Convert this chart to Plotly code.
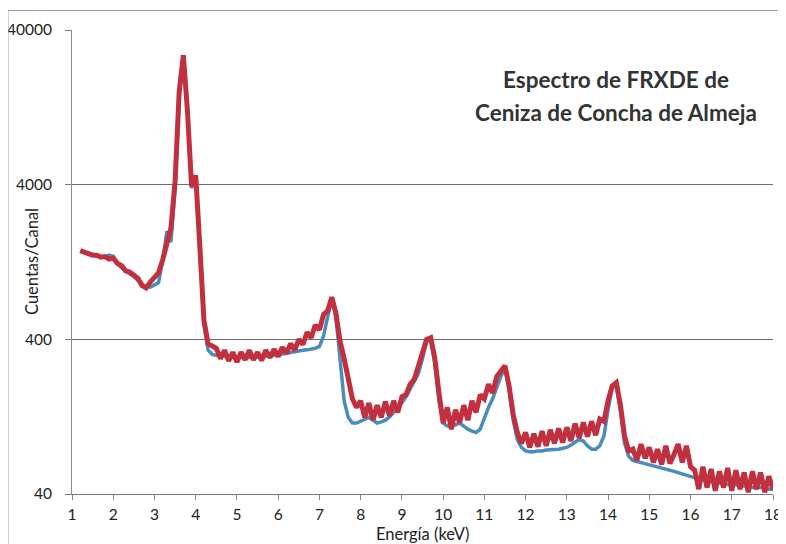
import numpy as np
import plotly.graph_objects as go

# Energy grid (keV), 0.1 keV channels from 1.2 to 18.0
energia = np.round(np.arange(1.2, 18.0001, 0.1), 2)

# Measured spectrum (red), counts per channel
medido = [
    1500, 1460, 1450, 1400, 1400, 1360, 1370, 1320,            # 1.2-1.9
    1340, 1240, 1200, 1110, 1090, 1030, 990, 890, 860, 940,    # 2.0-2.9
    1010, 1080, 1310, 1630, 2100, 4200, 16000, 27500, 12000, 3900,  # 3.0-3.9
    4600, 1600, 530, 375, 360, 350, 300, 340, 290, 330,        # 4.0-4.9
    285, 330, 295, 340, 295, 330, 292, 340, 305, 345,          # 5.0-5.9
    310, 355, 325, 375, 340, 400, 370, 445, 410, 495,          # 6.0-6.9
    460, 580, 610, 750, 590, 390, 300, 215, 165, 145,          # 7.0-7.9
    160, 125, 155, 120, 150, 125, 158, 128, 160, 135,          # 8.0-8.9
    170, 175, 205, 220, 265, 320, 400, 410, 300, 180,          # 9.0-9.9
    115, 145, 105, 140, 115, 150, 120, 160, 135, 175,          # 10.0-10.9
    165, 205, 180, 230, 250, 270, 200, 130, 100, 85,           # 11.0-11.9
    100, 80, 98, 81, 102, 82, 104, 85, 106, 86,                # 12.0-12.9
    108, 88, 114, 92, 116, 94, 118, 96, 122, 118,              # 13.0-13.9
    160, 200, 210, 150, 95, 76, 78, 66, 84, 68,                # 14.0-14.9
    80, 64, 78, 62, 82, 63, 72, 84, 64, 82,                    # 15.0-15.9
    60, 57, 43, 60, 44, 58, 42, 56, 44, 59,                    # 16.0-16.9
    42, 57, 43, 55, 41, 56, 43, 55, 41, 52,                    # 17.0-17.9
    43,                                                        # 18.0
]

# Fitted / reference spectrum (blue), counts per channel
ajuste = [
    1480, 1450, 1420, 1400, 1380, 1360, 1360, 1400,            # 1.2-1.9
    1380, 1230, 1160, 1100, 1060, 1020, 960, 900, 880, 870,    # 2.0-2.9
    900, 930, 1300, 2000, 1700, 3800, 15000, 27500, 12000, 3800,  # 3.0-3.9
    4500, 1550, 500, 340, 320, 315, 312, 310, 308, 306,        # 4.0-4.9
    305, 304, 304, 305, 306, 307, 308, 310, 312, 315,          # 5.0-5.9
    318, 322, 326, 330, 334, 338, 340, 342, 345, 350,          # 6.0-6.9
    360, 420, 560, 720, 560, 280, 160, 125, 115, 115,          # 7.0-7.9
    118, 122, 125, 120, 115, 117, 120, 126, 135, 145,          # 8.0-8.9
    155, 170, 190, 210, 240, 300, 390, 400, 280, 160,          # 9.0-9.9
    115, 110, 110, 112, 115, 110, 105, 102, 100, 105,          # 10.0-10.9
    125, 145, 165, 195, 230, 260, 190, 120, 90, 80,            # 11.0-11.9
    76, 75, 75, 76, 76, 77, 77, 78, 78, 79,                    # 12.0-12.9
    80, 83, 86, 90, 88, 82, 78, 78, 82, 95,                    # 13.0-13.9
    140, 195, 200, 140, 85, 70, 66, 65, 64, 63,                # 14.0-14.9
    62, 61, 60, 59, 58, 57, 56, 55, 54, 53,                    # 15.0-15.9
    52, 51, 50, 49, 49, 48, 48, 47, 47, 46,                    # 16.0-16.9
    46, 46, 45, 45, 45, 44, 44, 44, 44, 43,                    # 17.0-17.9
    43,                                                        # 18.0
]

y_ticks = [40, 400, 4000, 40000]
y_tick_text = ["40", "400", "4000", "40000"]
x_ticks = list(range(1, 19))

titulo_1 = "Espectro de FRXDE de"
titulo_2 = "Ceniza de Concha de Almeja"
x_titulo = "Energía (keV)"
y_titulo = "Cuentas/Canal"

FONT = "Lato, 'Open Sans', sans-serif"

fig = go.Figure()
fig.add_trace(go.Scatter(
    x=energia, y=ajuste, mode="lines", name="Ajuste",
    line=dict(color="#4a8cbd", width=3.5), showlegend=False,
))
fig.add_trace(go.Scatter(
    x=energia, y=medido, mode="lines", name="Medido",
    line=dict(color="#c2303f", width=5), showlegend=False,
))

# page body has an 8 px margin, so the figure is sized/offset to compensate
fig.update_layout(
    width=778, height=536,
    margin=dict(l=64, r=13, t=22, b=50),
    paper_bgcolor="white", plot_bgcolor="white",
    font=dict(family=FONT, size=15.5, color="#222222"),
    xaxis=dict(
        range=[1, 18], tickvals=x_ticks, ticks="outside", ticklen=5,
        tickcolor="#888888", showline=True, linecolor="#7a7a7a", linewidth=1,
        showgrid=False, zeroline=False, automargin=False,
        ticklabelstandoff=1,
    ),
    yaxis=dict(
        type="log", range=[np.log10(40), np.log10(40000)],
        tickvals=y_ticks, ticktext=y_tick_text, ticks="outside", ticklen=6,
        tickcolor="#7a7a7a", showline=True, linecolor="#8a8a8a", linewidth=1,
        showgrid=True, gridcolor="#6e6e6e", gridwidth=1, zeroline=False,
        automargin=False, ticklabelstandoff=10,
    ),
    annotations=[
        dict(x=0.776, y=(494 - 80) / 464, xref="paper", yref="paper",
             text="<b>" + titulo_1 + "</b>", showarrow=False,
             xanchor="center", yanchor="middle",
             font=dict(family=FONT, size=22.5, color="#333333")),
        dict(x=0.776, y=(494 - 112) / 464, xref="paper", yref="paper",
             text="<b>" + titulo_2 + "</b>", showarrow=False,
             xanchor="center", yanchor="middle",
             font=dict(family=FONT, size=22.5, color="#333333")),
        dict(x=0.5, y=(494 - 534) / 464, xref="paper", yref="paper",
             text=x_titulo, showarrow=False, xanchor="center", yanchor="middle",
             font=dict(family=FONT, size=16.5, color="#222222")),
        dict(x=(32 - 72) / 701, y=0.5, xref="paper", yref="paper",
             text=y_titulo, showarrow=False, textangle=-90,
             xanchor="center", yanchor="middle",
             font=dict(family=FONT, size=16.5, color="#222222")),
    ],
    shapes=[
        dict(type="line", xref="paper", yref="paper", x0=-0.0913, x1=1.03,
             y0=1.042, y1=1.042, line=dict(color="#a0a0a0", width=1)),
        dict(type="line", xref="paper", yref="paper", x0=-0.0913, x1=-0.0913,
             y0=1.042, y1=-0.2, line=dict(color="#a0a0a0", width=1)),
    ],
)

fig.write_html("out.html")
